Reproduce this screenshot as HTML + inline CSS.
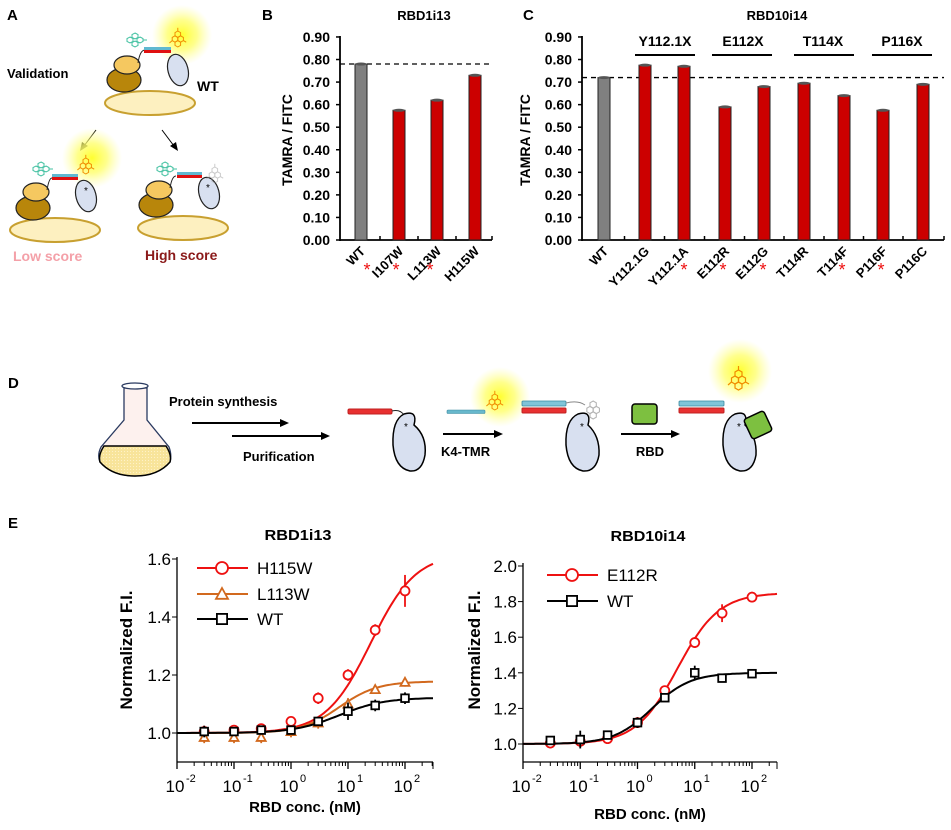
<!DOCTYPE html>
<html><head><meta charset="utf-8"><style>
html,body{margin:0;padding:0;background:#fff;}
svg{display:block;font-family:"Liberation Sans",Arial,sans-serif;}
.b{font-weight:bold;}
.n{font-family:"Liberation Sans Narrow","Liberation Sans",sans-serif;}
</style></head><body>
<svg id="s" width="951" height="830" viewBox="0 0 951 830" xmlns="http://www.w3.org/2000/svg">
<defs>
<radialGradient id="glow"><stop offset="0" stop-color="#ffff30" stop-opacity="1"/><stop offset="0.5" stop-color="#ffff70" stop-opacity="0.8"/><stop offset="1" stop-color="#ffffa0" stop-opacity="0"/></radialGradient>
<pattern id="liq" width="3" height="3" patternUnits="userSpaceOnUse"><rect width="3" height="3" fill="#f8e49a"/><circle cx="1.5" cy="1.5" r="0.6" fill="#fff3c8"/></pattern>
<g id="tmr" fill="none" stroke="#f08c00" stroke-width="1.2">
<polygon points="0,-4 3.5,-2 3.5,2 0,4 -3.5,2 -3.5,-2"/>
<polygon points="7,-4 10.5,-2 10.5,2 7,4 3.5,2 3.5,-2"/>
<polygon points="3.5,-10 7,-8 7,-4 3.5,-2 0,-4 0,-8"/>
<polygon points="3.5,2 7,4 7,8 3.5,10 0,8 0,4"/>
<line x1="-3.5" y1="2" x2="-7" y2="5"/><line x1="10.5" y1="2" x2="14" y2="4"/><line x1="3.5" y1="-10" x2="3.5" y2="-14"/>
</g>
<g id="fitc" fill="none" stroke="#40c0a0" stroke-width="1"><polygon points="0,-3 3,-1.5 3,1.5 0,3 -3,1.5 -3,-1.5"/><polygon points="-5,-7 -2,-5.5 -2,-2.5 -5,-1 -8,-2.5 -8,-5.5"/><polygon points="-5,1 -2,2.5 -2,5.5 -5,7 -8,5.5 -8,2.5"/><polygon points="-10,-3 -7,-1.5 -7,1.5 -10,3 -13,1.5 -13,-1.5"/><line x1="3" y1="0" x2="7" y2="0"/></g>
</defs>

<!-- Panel A -->
<text x="7" y="20" class="b" font-size="15">A</text>
<text x="7" y="78" class="b" font-size="13">Validation</text>
<text x="197" y="91" class="b" font-size="14">WT</text>
<circle cx="182" cy="35" r="30" fill="url(#glow)"/>
<ellipse cx="150" cy="103" rx="45" ry="12" fill="#fdf0c0" stroke="#c8a030" stroke-width="2"/>
<ellipse cx="124" cy="80" rx="17" ry="12" fill="#b8860b" stroke="#222" stroke-width="1.2"/>
<ellipse cx="127" cy="65" rx="13" ry="9" fill="#f5c860" stroke="#222" stroke-width="1.2"/>
<path d="M138 63 Q140 50 145 50" fill="none" stroke="#222"/>
<rect x="144" y="47" width="27" height="3" fill="#60b8d0"/><rect x="144" y="50" width="27" height="3" fill="#e01010"/>
<ellipse cx="178" cy="70" rx="10" ry="16" fill="#d8e0f0" stroke="#222" stroke-width="1.2" transform="rotate(-15 178 70)"/>
<use href="#fitc" transform="translate(140,40)"/>
<use href="#tmr" transform="translate(175,39) scale(0.8)"/>
<line x1="96" y1="130" x2="84" y2="146" stroke="#000"/><polygon points="80,151 82,142 88,146" fill="#000"/>
<line x1="162" y1="130" x2="174" y2="146" stroke="#000"/><polygon points="178,151 170,146 176,142" fill="#000"/>
<circle cx="92" cy="158" r="30" fill="url(#glow)"/>
<ellipse cx="55" cy="230" rx="45" ry="12" fill="#fdf0c0" stroke="#c8a030" stroke-width="2"/>
<ellipse cx="33" cy="208" rx="17" ry="12" fill="#b8860b" stroke="#222" stroke-width="1.2"/>
<ellipse cx="36" cy="192" rx="13" ry="9" fill="#f5c860" stroke="#222" stroke-width="1.2"/>
<path d="M47 190 Q49 178 52 178" fill="none" stroke="#222"/>
<rect x="52" y="174" width="26" height="3" fill="#60b8d0"/><rect x="52" y="177" width="26" height="3" fill="#e01010"/>
<ellipse cx="86" cy="196" rx="10" ry="16" fill="#d8e0f0" stroke="#222" stroke-width="1.2" transform="rotate(-15 86 196)"/>
<text x="84" y="194" font-size="10">*</text>
<use href="#fitc" transform="translate(46,169)"/>
<use href="#tmr" transform="translate(83,166) scale(0.8)"/>
<text x="13" y="261" class="b" font-size="14" fill="#f4a0a8">Low score</text>
<ellipse cx="183" cy="228" rx="45" ry="12" fill="#fdf0c0" stroke="#c8a030" stroke-width="2"/>
<ellipse cx="156" cy="205" rx="17" ry="12" fill="#b8860b" stroke="#222" stroke-width="1.2"/>
<ellipse cx="159" cy="190" rx="13" ry="9" fill="#f5c860" stroke="#222" stroke-width="1.2"/>
<path d="M170 188 Q172 176 176 176" fill="none" stroke="#222"/>
<rect x="177" y="172" width="25" height="3" fill="#60b8d0"/><rect x="177" y="175" width="25" height="3" fill="#e01010"/>
<ellipse cx="209" cy="193" rx="10" ry="16" fill="#d8e0f0" stroke="#222" stroke-width="1.2" transform="rotate(-15 209 193)"/>
<text x="206" y="191" font-size="10">*</text>
<use href="#fitc" transform="translate(170,169)"/>
<g opacity="0.5" style="filter:grayscale(1)"><use href="#tmr" transform="translate(212,175) scale(0.8)"/></g>
<text x="145" y="260" class="b" font-size="14" fill="#8b1a1a">High score</text>

<!-- Panel B -->
<text x="262" y="20" class="b" font-size="15">B</text>
<text x="424" y="20" class="b" font-size="13" text-anchor="middle">RBD1i13</text>
<g id="B"></g>
<!-- Panel C -->
<text x="523" y="20" class="b" font-size="15">C</text>
<text x="777" y="20" class="b" font-size="13" text-anchor="middle">RBD10i14</text>
<g id="C"></g>

<!-- Panel D -->
<text x="8" y="388" class="b" font-size="15">D</text>
<path d="M124 388 L124 420 L101 447 Q97 455 100 462 Q115 476 135 476 Q158 476 170 462 Q172 455 169 447 L147 420 L147 388 Z" fill="#fdf1ee" stroke="#2a3a60" stroke-width="1.3"/>
<path d="M104 446 L166 446 Q172 455 170 462 Q158 476 135 476 Q112 476 100 462 Q98 455 104 446 Z" fill="url(#liq)" stroke="#000" stroke-width="1.5"/>
<ellipse cx="135" cy="386" rx="13" ry="3" fill="#fff" stroke="#2a3a60" stroke-width="1.3"/>
<text x="169" y="406" class="b" font-size="13">Protein synthesis</text>
<line x1="192" y1="423" x2="280" y2="423" stroke="#000" stroke-width="2"/><polygon points="289,423 280,419 280,427" fill="#000"/>
<line x1="232" y1="436" x2="321" y2="436" stroke="#000" stroke-width="2"/><polygon points="330,436 321,432 321,440" fill="#000"/>
<text x="243" y="461" class="b" font-size="13">Purification</text>
<rect x="348" y="409" width="44" height="5" rx="1.5" fill="#e83030" stroke="#c02020"/>
<path d="M392 411 Q400 409 404 415" fill="none" stroke="#222"/>
<path d="M404 414 Q418 410 414 425 Q427 436 425 455 Q422 472 410 471 Q395 468 393 445 Q392 420 404 414 Z" fill="#d8e0f0" stroke="#000" stroke-width="1.5"/>
<text x="404" y="430" font-size="10">*</text>
<line x1="443" y1="434" x2="495" y2="434" stroke="#000" stroke-width="2"/><polygon points="503,434 494,430 494,438" fill="#000"/>
<text x="441" y="456" class="b" font-size="13">K4-TMR</text>
<circle cx="500" cy="397" r="30" fill="url(#glow)"/>
<rect x="447" y="410" width="38" height="3.5" rx="1" fill="#68b8cc" stroke="#3a8aa0" stroke-width="0.6"/>
<use href="#tmr" transform="translate(492,402) scale(0.8)"/>
<rect x="522" y="401" width="44" height="5" rx="1" fill="#80c4d8" stroke="#3a8aa0" stroke-width="0.8"/>
<rect x="522" y="408" width="44" height="5" rx="1" fill="#e83030" stroke="#c02020"/>
<path d="M566 403 Q578 400 585 405" fill="none" stroke="#888"/>
<path d="M578 414 Q592 410 588 425 Q600 436 599 455 Q596 472 583 471 Q568 468 566 445 Q565 420 578 414 Z" fill="#d8e0f0" stroke="#000" stroke-width="1.5"/>
<text x="580" y="430" font-size="10">*</text>
<g opacity="0.55"><g transform="translate(590,410) scale(0.9)" fill="none" stroke="#777" stroke-width="1.2"><polygon points="0,-4 3.5,-2 3.5,2 0,4 -3.5,2 -3.5,-2"/><polygon points="7,-4 10.5,-2 10.5,2 7,4 3.5,2 3.5,-2"/><polygon points="3.5,-10 7,-8 7,-4 3.5,-2 0,-4 0,-8"/><polygon points="3.5,2 7,4 7,8 3.5,10 0,8 0,4"/></g></g>
<rect x="632" y="404" width="25" height="20" rx="3" fill="#7dc040" stroke="#000" stroke-width="1.5"/>
<line x1="621" y1="434" x2="672" y2="434" stroke="#000" stroke-width="2"/><polygon points="680,434 671,430 671,438" fill="#000"/>
<text x="650" y="456" class="b" font-size="13" text-anchor="middle">RBD</text>
<circle cx="740" cy="371" r="32" fill="url(#glow)"/>
<rect x="679" y="401" width="45" height="5" rx="1" fill="#80c4d8" stroke="#3a8aa0" stroke-width="0.8"/>
<rect x="679" y="408" width="45" height="5" rx="1" fill="#e83030" stroke="#c02020"/>
<path d="M735 414 Q749 410 745 425 Q757 436 756 455 Q753 472 740 471 Q725 468 723 445 Q722 420 735 414 Z" fill="#d8e0f0" stroke="#000" stroke-width="1.5"/>
<text x="737" y="430" font-size="10">*</text>
<rect x="747" y="414" width="22" height="22" rx="3" fill="#7dc040" stroke="#000" stroke-width="1.5" transform="rotate(-25 758 425)"/>
<use href="#tmr" transform="translate(735,380) scale(1)"/>

<!-- Panel E -->
<text x="8" y="528" class="b" font-size="15">E</text>
<text x="298" y="540" class="b n" font-size="15" text-anchor="middle" textLength="67" lengthAdjust="spacingAndGlyphs">RBD1i13</text>
<text x="648" y="541" class="b n" font-size="15" text-anchor="middle" textLength="75" lengthAdjust="spacingAndGlyphs">RBD10i14</text>
<g id="E"></g>
</svg>
<script>
var NS="http://www.w3.org/2000/svg";
function el(p,t,a,txt){var e=document.createElementNS(NS,t);for(var k in a)e.setAttribute(k,a[k]);if(txt!=null)e.textContent=txt;p.appendChild(e);return e;}
function bars(gid,ax,lblx,ylx,xend,vals,names,dash,ast){
 var g=document.getElementById(gid);var y=function(v){return 240-v*225.6;};
 for(var i=0;i<=9;i++){var v=i/10,yy=y(v);el(g,'line',{x1:ax-4,y1:yy,x2:ax,y2:yy,stroke:'#000','stroke-width':1.5});
  el(g,'text',{x:lblx,y:yy+5,'text-anchor':'end','font-size':14,'font-weight':'bold'},v.toFixed(2));}
 el(g,'line',{x1:ax,y1:y(0.9)-1,x2:ax,y2:241,stroke:'#000','stroke-width':1.8});
 el(g,'line',{x1:ax,y1:240,x2:xend,y2:240,stroke:'#000','stroke-width':1.8});
 el(g,'line',{x1:xend,y1:240,x2:xend,y2:236,stroke:'#000','stroke-width':1.5});
 el(g,'text',{transform:'translate('+ylx+',140) rotate(-90)','text-anchor':'middle','font-size':14,'font-weight':'bold'},'TAMRA / FITC');
 el(g,'line',{x1:ax,y1:y(dash),x2:xend,y2:y(dash),stroke:'#000','stroke-width':1.3,'stroke-dasharray':'5,4'});
 for(var i=0;i<vals.length;i++){var c=vals[i][0],v=vals[i][1];
  el(g,'rect',{x:c-6,y:y(v),width:12,height:240-y(v),fill:i==0?'#808080':'#cc0000',stroke:'#222','stroke-width':1});
  el(g,'ellipse',{cx:c,cy:y(v),rx:6,ry:1.5,fill:'#555'});
  if(i<vals.length-1){var m=(c+vals[i+1][0])/2;el(g,'line',{x1:m,y1:240,x2:m,y2:236,stroke:'#000','stroke-width':1.5});}
  el(g,'text',{transform:'translate('+(c+5)+',252) rotate(-45)','text-anchor':'end','font-size':13,'font-weight':'bold'},names[i]);
 }
 ast.forEach(function(x){el(g,'text',{x:x,y:276,'text-anchor':'middle','font-size':18,fill:'#ee1111'},'*');});
}
bars('B',340,330,292,492,[[361,0.78],[399,0.575],[437,0.62],[475,0.73]],['WT','I107W','L113W','H115W'],0.78,[367,396,430]);
bars('C',582,572,530,944,[[604,0.72],[645,0.775],[684,0.77],[725,0.59],[764,0.68],[804,0.695],[844,0.64],[883,0.575],[923,0.69]],
 ['WT','Y112.1G','Y112.1A','E112R','E112G','T114R','T114F','P116F','P116C'],0.72,[684,723,763,842,881]);
var gc=document.getElementById('C');
[[665,'Y112.1X',635,695],[743,'E112X',712,772],[823,'T114X',794,854],[902,'P116X',872,932]].forEach(function(a){
 el(gc,'text',{x:a[0],y:46,'text-anchor':'middle','font-size':14,'font-weight':'bold'},a[1]);
 el(gc,'line',{x1:a[2],y1:55,x2:a[3],y2:55,stroke:'#000','stroke-width':2});});
var gE=document.getElementById('E');
function plot(o){
 var X=function(c){return o.x0+(Math.log10(c)+2)*o.dec;};var Y=function(v){return o.y1-(v-1)*o.py;};
 el(gE,'line',{x1:o.x0,y1:o.ytop,x2:o.x0,y2:762,stroke:'#000','stroke-width':1.3});
 el(gE,'line',{x1:o.x0,y1:762,x2:o.xend,y2:762,stroke:'#000','stroke-width':1.3});
 o.yt.forEach(function(v){var yy=Y(v);el(gE,'line',{x1:o.x0-5,y1:yy,x2:o.x0,y2:yy,stroke:'#000'});
  el(gE,'text',{x:o.x0-6,y:yy+6,'text-anchor':'end','font-size':17,'class':'n'},v.toFixed(1));});
 for(var d=-2;d<=2;d++){var xx=X(Math.pow(10,d));el(gE,'line',{x1:xx,y1:762,x2:xx,y2:769,stroke:'#000','stroke-width':1.3});
  el(gE,'text',{x:xx-2,y:792,'text-anchor':'middle','font-size':17,'class':'n'},'10');
  el(gE,'text',{x:xx+9,y:782,'font-size':11,'class':'n'},''+d);
  for(var m=2;m<10;m++){var c=m*Math.pow(10,d);if(X(c)<=o.xend)el(gE,'line',{x1:X(c),y1:762,x2:X(c),y2:766,stroke:'#000'});}}
 el(gE,'line',{x1:o.xend,y1:762,x2:o.xend,y2:769,stroke:'#000'});
 el(gE,'text',{x:(o.x0+o.xend)/2,y:o.xly,'text-anchor':'middle','font-size':15,'font-weight':'bold','class':'n'},'RBD conc. (nM)');
 el(gE,'text',{transform:'translate('+o.ylx+',650) rotate(-90)','text-anchor':'middle','font-size':17,'font-weight':'bold'},'Normalized F.I.');
 var cs=[0.03,0.1,0.3,1,3,10,30,100];
 o.series.forEach(function(s){
  var d='';for(var i=0;i<=120;i++){var lc=-2+i*((o.xend-o.x0)/o.dec)/120;var c=Math.pow(10,lc);
   var v=1+(s.top-1)/(1+Math.pow(s.ec/c,s.h));d+=(i?'L':'M')+X(c).toFixed(1)+' '+Y(v).toFixed(1);}
  el(gE,'path',{d:d,fill:'none',stroke:s.col,'stroke-width':2});
  s.d.forEach(function(v,i){var xx=X(cs[i]),yy=Y(v),e=s.e[i]*o.py;
   el(gE,'line',{x1:xx,y1:yy-e,x2:xx,y2:yy+e,stroke:s.col,'stroke-width':1.8});
   mk(s.m,xx,yy,s.col,4.5);});
 });
 o.series.forEach(function(s,i){var ly=o.legy[i];
  el(gE,'line',{x1:o.lx,y1:ly,x2:o.lx+51,y2:ly,stroke:s.col,'stroke-width':2});mk(s.m,o.lx+25,ly,s.col,6);
  el(gE,'text',{x:o.lx+60,y:ly+6,'font-size':17,'class':'n'},s.n);});
}
function mk(m,x,y,c,r){
 if(m=='o')el(gE,'circle',{cx:x,cy:y,r:r,fill:'#fff',stroke:c,'stroke-width':1.8});
 else if(m=='t')el(gE,'polygon',{points:(x)+','+(y-r)+' '+(x+r)+','+(y+r*0.8)+' '+(x-r)+','+(y+r*0.8),fill:'#fff',stroke:c,'stroke-width':1.8});
 else el(gE,'rect',{x:x-r*0.85,y:y-r*0.85,width:r*1.7,height:r*1.7,fill:'#fff',stroke:c,'stroke-width':1.8});
}
plot({x0:177,dec:57,xend:433,y1:733,py:290,ytop:557,yt:[1.0,1.2,1.4,1.6],xly:812,ylx:132,lx:197,legy:[568,594,619],series:[
 {n:'H115W',col:'#ee1111',m:'o',top:1.62,ec:25,h:1.1,d:[1.005,1.01,1.015,1.04,1.12,1.20,1.355,1.49],e:[0.02,0.015,0.015,0.015,0.02,0.02,0.02,0.055]},
 {n:'L113W',col:'#d2691e',m:'t',top:1.178,ec:7,h:1.3,d:[0.985,0.985,0.985,1.005,1.035,1.10,1.15,1.175],e:[0.02,0.02,0.02,0.02,0.02,0.02,0.015,0.015]},
 {n:'WT',col:'#000',m:'s',top:1.122,ec:7,h:1.1,d:[1.005,1.005,1.01,1.01,1.04,1.075,1.095,1.12],e:[0.02,0.015,0.01,0.01,0.01,0.03,0.02,0.02]}]});
plot({x0:523,dec:57.25,xend:777,y1:744,py:178,ytop:563,yt:[1.0,1.2,1.4,1.6,1.8,2.0],xly:819,ylx:480,lx:547,legy:[575,601],series:[
 {n:'E112R',col:'#ee1111',m:'o',top:1.85,ec:5,h:1.2,d:[1.005,1.015,1.03,1.12,1.30,1.57,1.735,1.825],e:[0.02,0.03,0.02,0.03,0.02,0.03,0.05,0.03]},
 {n:'WT',col:'#000',m:'s',top:1.40,ec:1.8,h:1.3,d:[1.02,1.025,1.05,1.12,1.26,1.40,1.37,1.395],e:[0.015,0.05,0.015,0.03,0.02,0.04,0.02,0.02]}]});
</script>
</body></html>
